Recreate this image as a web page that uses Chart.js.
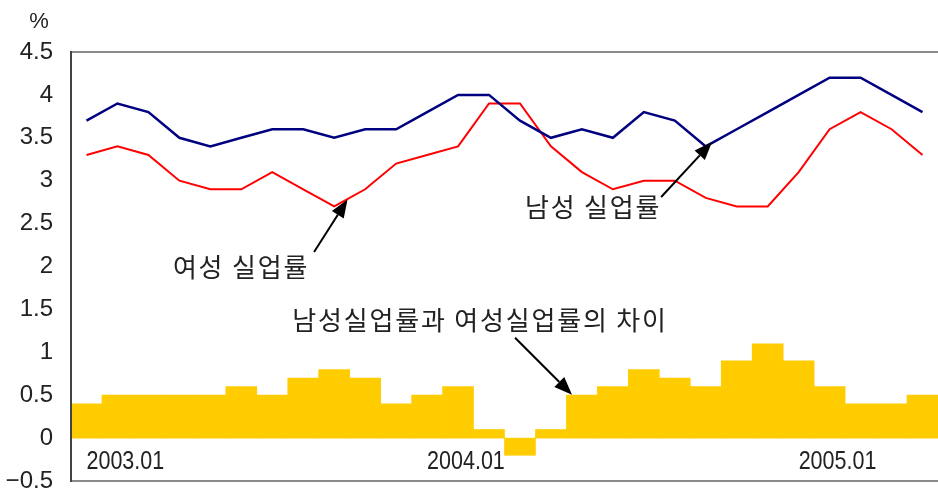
<!DOCTYPE html>
<html>
<head>
<meta charset="utf-8">
<script src="https://cdn.jsdelivr.net/npm/chart.js@4/dist/chart.umd.min.js"></script>
<style>
  body { margin: 0; background: #fff; }
  #wrap { width: 938px; height: 495px; }
</style>
</head>
<body>
<div id="wrap"><canvas id="myChart" width="938" height="495"></canvas></div>
<script>
// monthly data, 2003.01 - 2005.04
const months = ['2003.01','2003.02','2003.03','2003.04','2003.05','2003.06','2003.07','2003.08','2003.09','2003.10','2003.11','2003.12',
                '2004.01','2004.02','2004.03','2004.04','2004.05','2004.06','2004.07','2004.08','2004.09','2004.10','2004.11','2004.12',
                '2005.01','2005.02','2005.03','2005.04'];
const male = [3.7,3.9,3.8,3.5,3.4,3.5,3.6,3.6,3.5,3.6,3.6,3.8,4.0,4.0,3.7,3.5,3.6,3.5,3.8,3.7,3.4,3.6,3.8,4.0,4.2,4.2,4.0,3.8];
const female = [3.3,3.4,3.3,3.0,2.9,2.9,3.1,2.9,2.7,2.9,3.2,3.3,3.4,3.9,3.9,3.4,3.1,2.9,3.0,3.0,2.8,2.7,2.7,3.1,3.6,3.8,3.6,3.3];
const gap = [0.4,0.5,0.5,0.5,0.5,0.6,0.5,0.7,0.8,0.7,0.4,0.5,0.6,0.1,-0.2,0.1,0.5,0.6,0.8,0.7,0.6,0.9,1.1,0.9,0.6,0.4,0.4,0.5];

// x labels as placed in the picture
const xTickAt = [0, 11, 23];
const xTickText = ['2003.01', '2004.01', '2005.01'];

const latin = "'Liberation Sans', Arial, sans-serif";
const hangul = "'Noto Sans CJK KR', sans-serif";

// text notes and arrows, in data coordinates (category index, %)
const notes = [
  {text: '여성 실업률', x: 4.99, y: 1.99},
  {text: '남성 실업률', x: 16.36, y: 2.69},
  {text: '남성실업률과 여성실업률의 차이', x: 12.71, y: 1.38}
];
const arrows = [
  {from: [7.35, 2.17], to: [8.43, 2.78]},
  {from: [18.56, 2.81], to: [20.2, 3.45]},
  {from: [13.84, 1.17], to: [15.68, 0.505]}
];

const extras = {
  id: 'extras',
  afterDatasetsDraw(chart) {
    const c = chart.ctx, a = chart.chartArea;
    const xs = chart.scales.x, ys = chart.scales.y;
    c.save();
    // frame
    c.lineWidth = 2;
    c.strokeStyle = '#8a8a8a';
    c.beginPath();
    c.moveTo(a.left, a.top); c.lineTo(a.right + 2, a.top);
    c.moveTo(a.left, a.bottom); c.lineTo(a.right + 2, a.bottom);
    c.stroke();
    c.strokeStyle = '#444';
    c.beginPath();
    c.moveTo(a.left, a.top - 1); c.lineTo(a.left, a.bottom + 1);
    c.stroke();

    // % unit
    c.fillStyle = '#222';
    c.font = '22px ' + latin;
    c.textAlign = 'center';
    c.textBaseline = 'middle';
    c.fillText('%', 39, 22);

    // date labels just under the zero line (narrow face)
    c.font = '25px ' + latin;
    c.textAlign = 'left';
    const y0 = ys.getPixelForValue(0);
    xTickAt.forEach((idx, i) => {
      const px = xs.getPixelForValue(idx);
      c.save();
      c.translate(px, y0 + 24);
      c.scale(0.86, 1);
      c.fillText(xTickText[i], 0, 0);
      c.restore();
    });

    // notes
    c.font = '26px ' + hangul;
    c.letterSpacing = '1.8px';
    c.textAlign = 'center';
    notes.forEach(n => {
      c.fillText(n.text, xs.getPixelForValue(n.x), ys.getPixelForValue(n.y));
    });
    c.letterSpacing = '0px';

    // arrows
    c.strokeStyle = '#000';
    c.fillStyle = '#000';
    c.lineWidth = 2;
    arrows.forEach(ar => {
      const x1 = xs.getPixelForValue(ar.from[0]), y1 = ys.getPixelForValue(ar.from[1]);
      const x2 = xs.getPixelForValue(ar.to[0]), y2 = ys.getPixelForValue(ar.to[1]);
      const ang = Math.atan2(y2 - y1, x2 - x1);
      const len = 18, half = 7;
      const bx = x2 - len * Math.cos(ang), by = y2 - len * Math.sin(ang);
      c.beginPath();
      c.moveTo(x1, y1); c.lineTo(bx, by);
      c.stroke();
      c.beginPath();
      c.moveTo(x2, y2);
      c.lineTo(bx + half * Math.sin(ang), by - half * Math.cos(ang));
      c.lineTo(bx - half * Math.sin(ang), by + half * Math.cos(ang));
      c.closePath();
      c.fill();
    });
    c.restore();
  }
};

const ctx = document.querySelector('#myChart').getContext('2d');
const myChart = new Chart(ctx, {
  data: {
    labels: months,
    datasets: [
      {
        type: 'line', label: '남성 실업률', data: male,
        borderColor: '#000080', borderWidth: 2.5, pointRadius: 0, tension: 0, order: 1
      },
      {
        type: 'line', label: '여성 실업률', data: female,
        borderColor: '#ff0000', borderWidth: 2, pointRadius: 0, tension: 0, order: 2
      },
      {
        type: 'bar', label: '차이', data: gap,
        backgroundColor: '#ffcc00', barPercentage: 1, categoryPercentage: 1, order: 3
      }
    ]
  },
  options: {
    responsive: false,
    animation: false,
    layout: { padding: { top: 52, bottom: 14, right: 0, left: 0 } },
    plugins: {
      legend: { display: false },
      tooltip: { enabled: false }
    },
    scales: {
      x: {
        display: false,
        offset: true
      },
      y: {
        min: -0.5,
        max: 4.5,
        grid: { display: false, drawTicks: false },
        border: { display: false },
        // fixed axis width, no extra label overflow padding
        afterFit: function (scale) {
          scale.width = 71;
          scale.paddingTop = 0;
          scale.paddingBottom = 0;
        },
        ticks: {
          stepSize: 0.5,
          padding: 18,
          color: '#222',
          font: { family: latin, size: 24 },
          callback: v => String(v).replace('-', '\u2212')
        }
      }
    }
  },
  plugins: [extras]
});
</script>
</body>
</html>
